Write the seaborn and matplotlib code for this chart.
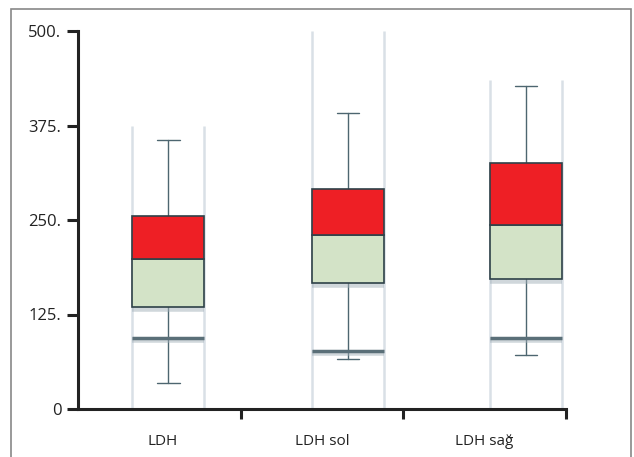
import matplotlib
matplotlib.use("Agg")
import matplotlib.pyplot as plt
import seaborn as sns
import numpy as np
from matplotlib.patches import Rectangle

# ---- data ----
categories = ["LDH", "LDH sol", "LDH sağ"]
whisker_low = [34, 66, 71]
lower_line = [94, 77, 94]
q1 = [135, 167, 172]
median = [198, 230, 243]
q3 = [255, 291, 325]
whisker_high = [356, 391, 427]
column_top = [375, 500, 435]
y_ticks = [0, 125, 250, 375, 500]
y_tick_labels = ["0", "125.", "250.", "375.", "500."]

sns.set_theme(style="white")
plt.rcParams["font.family"] = ["Open Sans", "DejaVu Sans"]

fig = plt.figure(figsize=(6.34, 4.57), dpi=100)
ax = fig.add_axes([78 / 634, 48 / 457, 488 / 634, 378 / 457])

# box positions (offset to the right within each category slot)
pos = np.array([0.555, 1.66, 2.754])
w = 0.443

red = "#ee1f25"
green = "#d3e3c7"
edge = "#2e4148"
wcol = "#4d6670"
colcol = "#d9e0e6"

for i in range(3):
    x = pos[i]
    # light vertical column lines
    for xe in (x - w / 2, x + w / 2):
        ax.plot([xe, xe], [0, column_top[i]], color=colcol, lw=1.8, zorder=1,
                solid_capstyle="butt")
    # whiskers
    ax.plot([x, x], [whisker_low[i], q1[i]], color=wcol, lw=1.0, zorder=2)
    ax.plot([x, x], [q3[i], whisker_high[i]], color=wcol, lw=1.0, zorder=2)
    for yv in (whisker_low[i], whisker_high[i]):
        ax.plot([x - 0.07, x + 0.07], [yv, yv], color=wcol, lw=1.0, zorder=2)
    # shadowed lower line
    ax.plot([x - w / 2, x + w / 2], [lower_line[i] - 3, lower_line[i] - 3],
            color="#a3b1b9", lw=4, alpha=0.5, zorder=2, solid_capstyle="butt")
    ax.plot([x - w / 2, x + w / 2], [lower_line[i], lower_line[i]],
            color="#5a6f78", lw=2.5, zorder=3, solid_capstyle="butt")
    # box shadow under bottom edge
    ax.plot([x - w / 2, x + w / 2], [q1[i] - 3, q1[i] - 3],
            color="#a3b1b9", lw=4, alpha=0.5, zorder=2, solid_capstyle="butt")

# box halves
ax.bar(pos, np.array(median) - np.array(q1), bottom=q1, width=w,
       color=green, edgecolor=edge, linewidth=1.2, zorder=4)
ax.bar(pos, np.array(q3) - np.array(median), bottom=median, width=w,
       color=red, edgecolor=edge, linewidth=1.2, zorder=4)

ax.set_xlim(0, 3)
ax.set_ylim(0, 500)
ax.set_yticks(y_ticks)
ax.set_yticklabels(y_tick_labels)
ax.set_xticks([1, 2, 3])
ax.set_xticklabels([])
ax.set_xticks([0.52, 1.5, 2.5], minor=True)
ax.set_xticklabels(categories, minor=True)
ax.tick_params(axis="x", which="minor", length=0, pad=18, labelsize=11, colors="#222222")
ax.tick_params(axis="x", which="major", length=7, width=2.2, color="#222222", direction="out")
ax.tick_params(axis="y", length=8, width=2.2, color="#222222", direction="out",
               labelsize=12, labelcolor="#222222", pad=4)
ax.yaxis.set_ticks_position("left")
ax.xaxis.set_ticks_position("bottom")

for s in ("top", "right"):
    ax.spines[s].set_visible(False)
for s in ("left", "bottom"):
    ax.spines[s].set_color("#222222")
    ax.spines[s].set_linewidth(2.2)
ax.set_facecolor("white")
ax.grid(False)

# outer frame
fig.patches.append(Rectangle((11 / 634, -0.05), 620 / 634, (457 - 9) / 457 + 0.05,
                             transform=fig.transFigure, fill=False,
                             edgecolor="#888888", linewidth=1.2))

fig.savefig("out.png", dpi=100)
